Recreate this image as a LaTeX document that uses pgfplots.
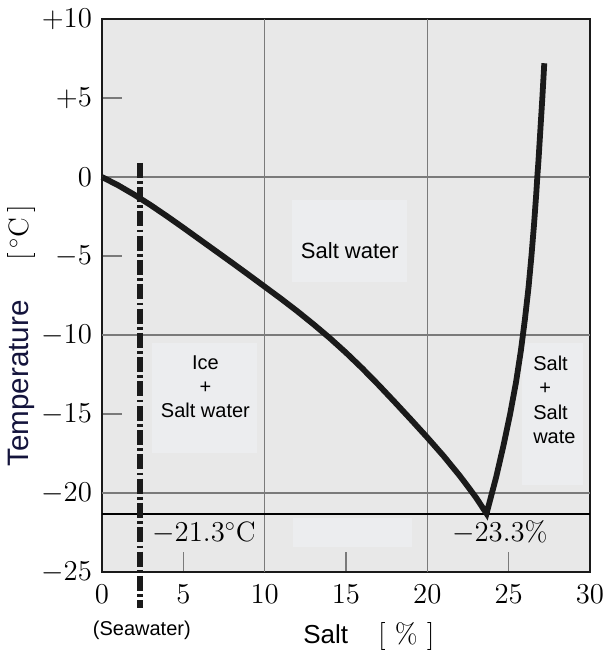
\documentclass[border=0pt]{standalone}
\usepackage{fontspec}
\setsansfont{Liberation Sans}
\usepackage{pgfplots}
\pgfplotsset{compat=1.18}
\definecolor{bg}{HTML}{E8E8E8}
\definecolor{patch}{HTML}{ECEDEF}
\definecolor{gridc}{HTML}{7A7A7A}
\definecolor{ink}{HTML}{1A1A1A}
\definecolor{navy}{HTML}{14143C}
\begin{document}
\begin{tikzpicture}
\begin{axis}[name=ax, scale only axis, width=244pt, height=276.5pt,
  xmin=0, xmax=30, ymin=-25, ymax=10,
  clip=false,
  axis background/.style={fill=bg},
  axis line style={draw=ink, line width=1.2pt},
  xtick={0,5,...,30}, ytick={-25,-20,...,10},
  yticklabels={$-25$,$-20$,$-15$,$-10$,$-5$,$0$,$+5$,$+10$},
  xtick pos=left, ytick pos=left,
  tick align=inside, major tick length=10pt,
  tick style={draw=gridc, line width=0.6pt},
  ticklabel style={font=\fontsize{14}{16}\selectfont},
  xticklabel style={yshift=-3pt},
  yticklabel style={xshift=-1.5pt},
  extra x ticks={10,20}, extra y ticks={0,-10,-20},
  extra x tick labels={}, extra y tick labels={},
  extra tick style={grid=major, major tick length=0pt},
  grid style={draw=gridc, line width=0.6pt},
  xlabel={\fontsize{13}{15}\selectfont\sffamily Salt\hspace{15pt}\fontsize{14}{16}\selectfont\rmfamily[ \% ]},
  xlabel style={at={(axis description cs:0.547,-0.1175)}, anchor=center},
  ylabel={\fontsize{14.8}{16}\selectfont\sffamily\color{navy}Temperature\hspace{20pt}\fontsize{14}{16}\selectfont\rmfamily\color{black}[\,$^{\circ}$C\,]},
  ylabel style={at={(axis description cs:-0.164,0.427)}, anchor=center},
]
% light patches behind labels
\addplot[fill=patch, draw=none, forget plot] coordinates {(11.68,-1.46) (18.75,-1.46) (18.75,-6.65) (11.68,-6.65) (11.68,-1.46)};
\addplot[fill=patch, draw=none, forget plot] coordinates {(3.07,-10.5) (9.53,-10.5) (9.53,-17.47) (3.07,-17.47) (3.07,-10.5)};
\addplot[fill=patch, draw=none, forget plot] coordinates {(25.81,-10.5) (29.56,-10.5) (29.56,-19.5) (25.81,-19.5) (25.81,-10.5)};
\addplot[fill=patch, draw=none, forget plot] coordinates {(11.74,-21.58) (19.05,-21.58) (19.05,-23.42) (11.74,-23.42) (11.74,-21.58)};
% eutectic line
\addplot[draw=black, line width=1pt, forget plot] coordinates {(0,-21.3) (30,-21.3)};
% seawater line
\addplot[draw=ink, line width=3.2pt, dash pattern=on 7.5pt off 1.65pt on 1.35pt off 1.65pt, forget plot] coordinates {(2.34,0.9) (2.34,-27.3)};
% phase curve
\addplot[draw=ink, line width=2.9pt, line cap=butt, line join=miter, forget plot] coordinates {
 (0,0) (1,-0.53) (2,-1.13) (3,-1.785) (4,-2.485) (5,-3.21) (6,-3.95) (7,-4.69) (8,-5.43) (9,-6.18)
 (10,-6.94) (11,-7.70) (12,-8.49) (13,-9.32) (14,-10.19) (15,-11.12) (16,-12.11) (17,-13.16)
 (18,-14.25) (19,-15.36) (20,-16.49) (21,-17.66) (22,-18.92) (22.5,-19.6) (23,-20.3) (23.64,-21.3)
 (24.23,-19) (24.68,-17) (25.09,-15) (25.45,-13) (25.75,-11) (26.0,-9) (26.22,-7) (26.4,-5)
 (26.56,-3) (26.7,-1) (26.76,0) (26.83,1) (26.95,3) (27.07,5) (27.19,7.2)};
% labels
\node[font=\fontsize{11}{13}\selectfont\sffamily] at (axis cs:15.24,-4.66) {Salt water};
\node[font=\fontsize{10}{12}\selectfont\sffamily, align=center] at (axis cs:6.36,-13.3) {Ice\\+\\Salt water};
\node[font=\fontsize{10}{12.3}\selectfont\sffamily, align=left, anchor=west, inner sep=0pt] at (axis cs:26.49,-14.11) {Salt\\\hspace*{3pt}+\\Salt\\wate};
\node[font=\fontsize{14}{16}\selectfont] at (axis cs:6.27,-22.53) {$-21.3^{\circ}\mathrm{C}$};
\node[font=\fontsize{14}{16}\selectfont] at (axis cs:24.46,-22.5) {$-23.3\%$};
\node[font=\fontsize{10}{12}\selectfont\sffamily] at (axis cs:2.45,-28.67) {(Seawater)};
\end{axis}
\pgfresetboundingbox
\path ([shift={(-51pt,-40.5pt)}]ax.south west) rectangle ([shift={(7pt,9.5pt)}]ax.north east);
\end{tikzpicture}
\end{document}
